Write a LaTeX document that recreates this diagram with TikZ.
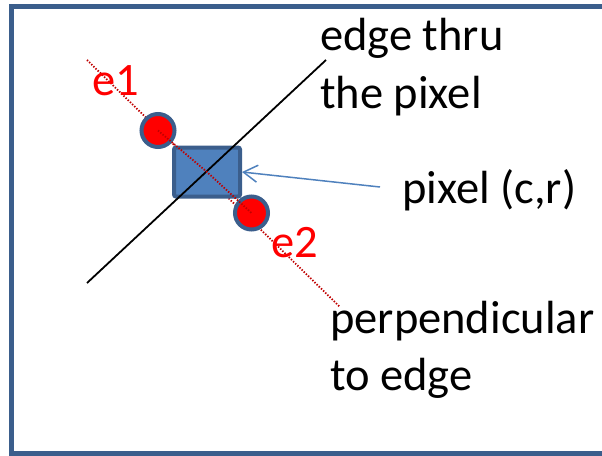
\documentclass[tikz,border=0pt]{standalone}
\usepackage{fontspec}
\setmainfont{Carlito}
\usetikzlibrary{arrows.meta}
\definecolor{frameblue}{HTML}{3B5E8C}
\definecolor{fillblue}{HTML}{4F81BD}
\definecolor{darkred}{HTML}{C00000}
\tikzset{
  lbl/.style={font=\fontsize{46.5}{57}\selectfont, inner sep=0pt, align=left},
  redlbl/.style={lbl, text=red},
  dot/.style={circle, draw=frameblue, fill=red, line width=4pt, minimum size=33pt, inner sep=0pt},
  pixbox/.style={draw=frameblue, fill=fillblue, line width=4pt, rounded corners=2pt, minimum width=66pt, minimum height=49pt, inner sep=0pt},
  dotline/.style={darkred, line width=1.8pt, dash pattern=on 1.4pt off 1.6pt},
}
\begin{document}
\begin{tikzpicture}[x=1pt,y=-1pt]
\path[use as bounding box] (0,0) rectangle (602,455);
\begin{scope}
\clip (0,0) rectangle (602,455);
\coordinate (f1) at (608,6.3);
\coordinate (f2) at (11.5,6.3);
\coordinate (f3) at (11.5,453.5);
\coordinate (f4) at (608,453.5);
\draw[frameblue, line width=5pt] (f1) -- (f2) -- (f3) -- (f4);
\end{scope}
% perpendicular (dotted) and edge lines
\coordinate (p1) at (87,60);
\coordinate (p2) at (340,307);
\coordinate (q1) at (87,283);
\coordinate (q2) at (326,60);
\draw[dotline] (p1) -- (p2);
\node[pixbox] (pix) at (207,172) {};
\draw[black, line width=1.8pt] (q1) -- (q2);
\node[dot] (d1) at (158,130.5) {};
\node[dot] (d2) at (251.5,213) {};
\draw[dotline] (d1.center) -- (pix.center) -- (d2.center);
% labels
\node[redlbl, anchor=base west] (e1) at (92,95) {e1};
\node[redlbl, anchor=base west] (e2) at (271,257) {e2};
\node[lbl, anchor=base west] (edge) at (320,50) {edge thru};
\node[lbl, anchor=base west] (edge2) at (320,108) {the pixel};
\node[lbl, anchor=base west] (pixlbl) at (402,203) {pixel (c,r)};
\node[lbl, anchor=base west] (perp) at (330,333) {perpendicular};
\node[lbl, anchor=base west] (perp2) at (330,390) {to edge};
\coordinate (a0) at (380,187);
\draw[fillblue, line width=1.5pt, -{Straight Barb[length=14pt,width=17pt,line width=1.5pt]}] (a0) -- (pix.east);
\end{tikzpicture}
\end{document}
